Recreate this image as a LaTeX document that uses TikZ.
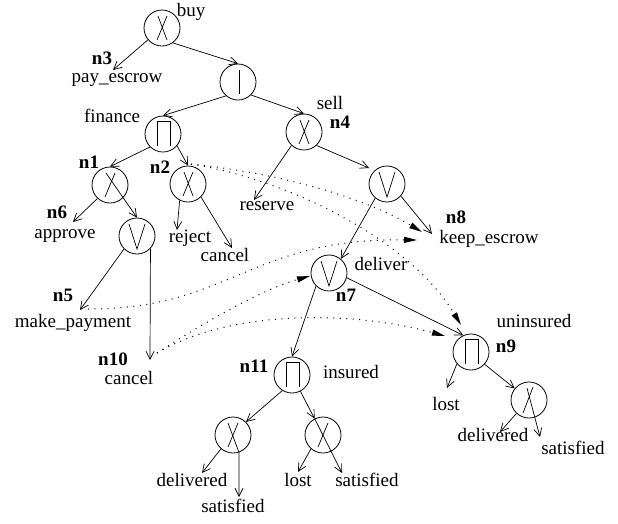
\documentclass[tikz,border=0pt]{standalone}
\usepackage{fontspec}
\setmainfont{Liberation Serif}
\usetikzlibrary{arrows.meta,calc}
\begin{document}
\begin{tikzpicture}[x=1pt,y=-1pt,
  every node/.style={font=\fontsize{19}{21}\selectfont},
  circ/.style={circle,draw,minimum size=36pt,inner sep=0pt,line width=0.8pt},
  lbl/.style={inner sep=0pt,anchor=mid},
  bl/.style={lbl,font=\fontsize{19}{21}\selectfont\bfseries},
  edge/.style={line width=0.7pt,-{Straight Barb[length=8pt,width=8pt]}},
  dep/.style={line width=1pt,dash pattern=on 1pt off 5.5pt,-{Triangle[length=13pt,width=6pt]}},
  glyph/.style={line width=0.7pt},
  gX/.pic={\draw[glyph] (-4,-12)--(5,12) (5,-12)--(-5,12);},
  gXb/.pic={\draw[glyph] (5,-12)--(-5,12);},
  gV/.pic={\draw[glyph] (-8,-12)--(0,13)--(8,-12);},
  gP/.pic={\draw[glyph] (-6,12)--(-6,-13)--(7,-13)--(7,12);},
  gI/.pic={\draw[glyph] (1,-12)--(1,12);}
]
\useasboundingbox (0,0) rectangle (618,523);

% operator nodes
\node[circ] (buy) at (162,28) {};  \pic at (buy) {gX};
\node[circ] (seq) at (238,82) {};  \pic at (seq) {gI};
\node[circ] (fin) at (163,134) {}; \pic at (fin) {gP};
\node[circ] (sell) at (304,132) {};\pic at (sell) {gX};
\node[circ] (n1) at (110,185) {};  \pic at (n1) {gXb};
\node[circ] (n2) at (188,184) {};  \pic at (n2) {gX};
\node[circ] (v1) at (137,236) {};  \pic at (v1) {gV};
\node[circ] (v2) at (387,184) {};  \pic at (v2) {gV};
\node[circ] (n7) at (329,273) {};  \pic at (n7) {gV};
\node[circ] (n11) at (292,375) {}; \pic at (n11) {gP};
\node[circ] (n9) at (471,352) {};  \pic at (n9) {gP};
\node[circ] (x3) at (233,435) {};  \pic at (x3) {gXb};
\node[circ] (x4) at (323,435) {};  \pic at (x4) {gXb};
\node[circ] (x5) at (529,400) {};
\draw[glyph] ($(x5)+(4,-13)$) -- ($(x5)+(-6,13)$);
\draw[glyph] ($(x3)+(-5,-12)$) -- (x3.-71);

% labels
\node[lbl] (lbuy) at (191,14) {buy};
\node[bl] (ln3) at (102,62) {n3};
\node[lbl] (payescrow) at (117,80) {pay\_escrow};
\node[lbl] (lfin) at (112,120) {finance};
\node[lbl] (lsell) at (330,107) {sell};
\node[bl] (ln4) at (340,126) {n4};
\node[bl] (ln1) at (89,166) {n1};
\node[bl] (ln2) at (160,171) {n2};
\node[bl] (ln6) at (57,216) {n6};
\node[lbl] (approve) at (65,236) {approve};
\node[lbl] (reject) at (190,240) {reject};
\node[lbl] (cancelA) at (225,259) {cancel};
\node[lbl] (reserve) at (267,208) {reserve};
\node[bl] (ln8) at (456,221) {n8};
\node[lbl] (keep) at (489,241) {keep\_escrow};
\node[lbl] (deliver) at (381,268) {deliver};
\node[bl] (ln7) at (346,299) {n7};
\node[bl] (ln5) at (63,299) {n5};
\node[lbl] (makepay) at (73,325) {make\_payment};
\node[bl] (ln10) at (113,363) {n10};
\node[lbl] (cancelB) at (129,382) {cancel};
\node[bl] (ln11) at (254,370) {n11};
\node[lbl] (insured) at (351,376) {insured};
\node[lbl] (uninsured) at (534,325) {uninsured};
\node[bl] (ln9) at (506,350) {n9};
\node[lbl] (lostA) at (446,408) {lost};
\node[lbl] (delA) at (493,439) {delivered};
\node[lbl] (satA) at (573,452) {satisfied};
\node[lbl] (delB) at (192,484) {delivered};
\node[lbl] (satB) at (233,510) {satisfied};
\node[lbl] (lostB) at (298,484) {lost};
\node[lbl] (satC) at (367,484) {satisfied};

% arrow tip coordinates
\coordinate (t3) at (113,70);
\coordinate (t6) at (73,222);
\coordinate (t5) at (80,310);
\coordinate (t10) at (150,360);
\coordinate (tRej) at (177,230);
\coordinate (tCanA) at (232,248);
\coordinate (tRes) at (254,200);
\coordinate (tKeep) at (432,234);
\coordinate (tDelB) at (202,473);
\coordinate (tSatB) at (239,497);
\coordinate (tLostB) at (298,472);
\coordinate (tSatC) at (342,473);
\coordinate (tLostA) at (447,388);
\coordinate (tDelA) at (500,432);
\coordinate (tSatA) at (540,437);
% dependency end points
\coordinate (d2) at (191,164);
\coordinate (d5) at (88,309);
\coordinate (d10) at (157,353);
\coordinate (eA) at (422,232);
\coordinate (eB) at (417,240);
\coordinate (e7) at (310,276);
\coordinate (e9a) at (461,325);
\coordinate (e9b) at (445,336);

% tree edges
\draw[edge] (buy.-140) -- (t3);
\draw[edge] (buy.-54) -- (seq.north);
\draw[edge] (seq.-131) -- (fin.north);
\draw[edge] (seq.-45) -- (sell.north);
\draw[edge] (fin.-135) -- (n1.north);
\draw[edge] (fin.-40) -- (n2.north);
\draw[edge] (sell.-133) -- (tRes);
\draw[edge] (sell.-47) -- ($(v2.135)+(-5,-3)$);
\draw[edge] (n1.-133) -- (t6);
\draw[edge] ($(n1)+(-4,-12)$) -- (v1.north);
\draw[edge] (v1.-135) -- (t5);
\draw[edge] (v1.-43) -- (t10);
\draw[edge] (n2.-117) -- (tRej);
\draw[edge] (n2.-45) -- (tCanA);
\draw[edge] (v2.-41) -- (tKeep);
\draw[edge] (v2.-130) -- (n7.50);
\draw[edge] (n7.-135) -- (n11.north);
\draw[edge] (n7.-15) -- (n9.115);
\draw[edge] (n11.-122) -- (x3.45);
\draw[edge] (n11) -- (x4);
\draw[edge] (x3.-131) -- (tDelB);
\draw[edge] (x3.-71) -- (tSatB);
\draw[edge] (x4.-131) -- (tLostB);
\draw[edge] (x4.117) -- (tSatC);
\draw[edge] (n9.-140) -- (tLostA);
\draw[edge] (n9.-42) -- (x5.141);
\draw[edge] (x5.-133) -- (tDelA);
\draw[edge] ($(x5)+(-2,-12)$) -- (tSatA);

% dependency (dotted) edges
\draw[dep] (d2) .. controls (270,172) and (360,195) .. (eA);
\draw[dep] (d2) .. controls (290,180) and (410,240) .. (e9a);
\draw[dep] (d5) .. controls (230,309) and (250,238) .. (eB);
\draw[dep] (d10) .. controls (200,325) and (260,290) .. (e7);
\draw[dep] (d10) .. controls (230,310) and (350,310) .. (e9b);
\end{tikzpicture}
\end{document}
